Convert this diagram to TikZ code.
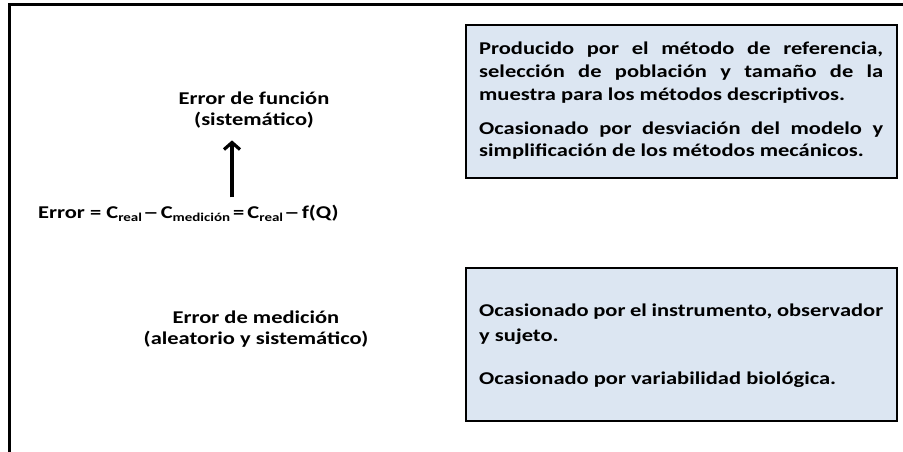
\documentclass[tikz,border=0pt]{standalone}
\usepackage{fontspec}
\setmainfont{Carlito}[FakeStretch=1.25]
\usetikzlibrary{arrows.meta}
\definecolor{boxfill}{HTML}{DCE6F2}
\newcommand\lowsub[1]{\raisebox{-0.45ex}{\fontsize{12}{12}\selectfont #1}}
\newcommand\longdash{\scalebox{1.4}[1]{–}}
\begin{document}
\begin{tikzpicture}[x=1pt,y=-1pt,
  every node/.style={inner sep=0pt, font=\bfseries\fontsize{18}{22}\selectfont},
  infobox/.style={draw=black, line width=2.2pt, fill=boxfill, minimum width=431pt, minimum height=153pt},
  lefttext/.style={align=center, font=\bfseries\fontsize{18}{21}\selectfont},
  arr/.style={line width=3.2pt, -{Straight Barb[length=7pt,width=16pt]}}]
\useasboundingbox (0,0) rectangle (903,452);
\fill[white] (0,0) rectangle (903,452);
\draw[line width=2.5pt] (9.5,452) -- (9.5,4.5) -- (903,4.5);
\node[infobox] (top) at (681.5,101.5) {};
\node[infobox] (bot) at (681.5,344.5) {};
\node[anchor=base west] (t1) at (479,55) {\makebox[404pt][s]{Producido por el método de referencia,}};
\node[anchor=base west] (t2) at (479,77.5) {\makebox[404pt][s]{selección de población y tamaño de la}};
\node[anchor=base west] (t3) at (479,100) {muestra para los métodos descriptivos.};
\node[anchor=base west] (t4) at (479,134) {\makebox[404pt][s]{Ocasionado por desviación del modelo y}};
\node[anchor=base west] (t5) at (479,157) {simplificación de los métodos mecánicos.};
\node[anchor=base west] (b1) at (479,316) {\makebox[404pt][s]{Ocasionado por el instrumento, observador}};
\node[anchor=base west] (b2) at (479,341) {y sujeto.};
\node[anchor=base west] (b3) at (479,384) {Ocasionado por variabilidad biológica.};
\node[lefttext] (func) at (254,110) {Error de función\\(sistemático)};
\node[lefttext] (med) at (256,329) {Error de medición\\(aleatorio y sistemático)};
\node[anchor=base west] (formula) at (38,218) {Error = C\lowsub{real}\kern1pt\longdash\kern2pt C\lowsub{medición}\,=\,C\lowsub{real}\kern1pt\longdash\kern2pt f(Q)};
\coordinate (ax) at (232,0);
\draw[arr, shorten <=7pt, shorten >=12pt] (formula.north -| ax) -- (func.south -| ax);
\end{tikzpicture}
\end{document}
